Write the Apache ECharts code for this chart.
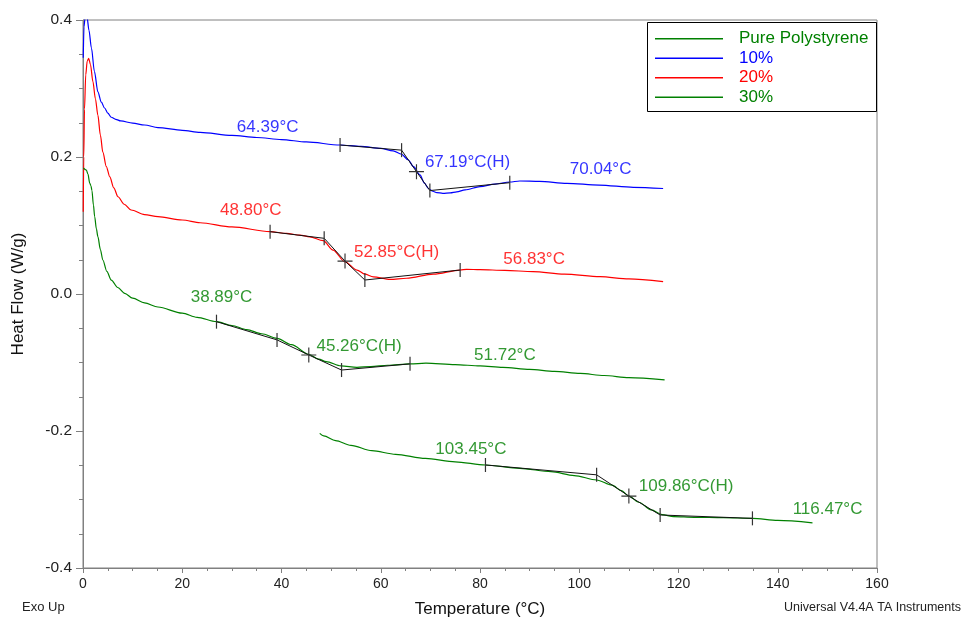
<!DOCTYPE html>
<html>
<head>
<meta charset="utf-8">
<script src="https://cdn.jsdelivr.net/npm/echarts@6/dist/echarts.min.js"></script>
<style>
html,body{margin:0;padding:0;background:#fff;}
#chart{width:962px;height:619px;}
</style>
</head>
<body>
<div id="chart"></div>
<script>
// ---------- data (temperature °C, heat flow W/g) ----------
const seriesNames = ['Pure Polystyrene', '10%', '20%', '30%'];
const xTicks = [0, 20, 40, 60, 80, 100, 120, 140, 160];
const yTicks = [-0.4, -0.2, 0.0, 0.2, 0.4];

const pureT = [47.7, 48.5, 50.9, 54, 58.2, 63, 69, 75, 81.1, 88, 94.3, 99, 103.5, 106.6, 108.5, 110, 112, 114.5, 116.7, 119, 123.2, 129, 134.9, 140, 147];
const pureV = [-0.2034, -0.207, -0.214, -0.221, -0.2287, -0.234, -0.24, -0.245, -0.2496, -0.2545, -0.2594, -0.265, -0.2715, -0.279, -0.287, -0.295, -0.304, -0.315, -0.322, -0.325, -0.326, -0.3265, -0.3275, -0.3305, -0.334];

const p10T = [0.05, 0.2, 0.5, 0.8, 1.2, 1.7, 2.3, 3.0, 3.7, 4.35, 5.0, 5.7, 6.6, 7.6, 10, 12.4, 15.1, 20, 23.6, 30, 35, 40, 45, 51.8, 56, 60, 62.5, 64.2, 65.5, 66.6, 67.9, 68.8, 69.6, 70.5, 71.3, 72.5, 74, 75.3, 77, 80, 83, 86, 88, 92, 97.5, 104, 110.9, 116.9];
const p10V = [0.345, 0.39, 0.41, 0.405, 0.385, 0.359, 0.325, 0.295, 0.28, 0.2715, 0.264, 0.258, 0.255, 0.2526, 0.2495, 0.2467, 0.243, 0.239, 0.236, 0.2315, 0.2285, 0.2255, 0.222, 0.2175, 0.2155, 0.2125, 0.209, 0.204, 0.196, 0.186, 0.174, 0.162, 0.154, 0.15, 0.148, 0.147, 0.1475, 0.149, 0.152, 0.1567, 0.1605, 0.1635, 0.165, 0.1645, 0.1616, 0.159, 0.1557, 0.154];

const p20T = [0.05, 0.15, 0.3, 0.55, 0.85, 1.15, 1.5, 2.0, 2.5, 3.0, 3.5, 4.0, 4.7, 5.4, 6.2, 7.05, 8.3, 9.7, 12.4, 15.1, 20, 23.6, 30, 37.7, 41, 43.7, 45.7, 48.4, 50.4, 52.8, 55.2, 56.8, 58.5, 61.9, 65.2, 70.6, 76, 77.3, 80, 85, 90.7, 97, 104.2, 110, 116.9];
const p20V = [0.12, 0.2, 0.27, 0.32, 0.34, 0.344, 0.335, 0.31, 0.285, 0.261, 0.232, 0.207, 0.186, 0.171, 0.155, 0.142, 0.131, 0.1226, 0.116, 0.113, 0.108, 0.104, 0.098, 0.091, 0.0885, 0.086, 0.0835, 0.078, 0.064, 0.047, 0.035, 0.029, 0.025, 0.0214, 0.023, 0.029, 0.035, 0.036, 0.0355, 0.0345, 0.0326, 0.029, 0.0253, 0.022, 0.018];

const p30T = [0.1, 0.67, 1.0, 1.35, 1.6, 1.8, 2.1, 2.35, 2.7, 3.0, 3.5, 4.0, 4.8, 5.7, 7, 8.4, 10, 12.4, 15.1, 20, 23, 26.9, 30, 33, 36, 39.1, 42, 45.5, 47.5, 49, 52, 55.2, 58, 61.4, 65.9, 69.1, 75, 80, 84.6, 90, 95, 100.2, 105, 110, 117.2];
const p30V = [0.184, 0.181, 0.175, 0.162, 0.158, 0.151, 0.13, 0.113, 0.095, 0.0837, 0.065, 0.0496, 0.033, 0.0204, 0.0095, 0.001, -0.006, -0.013, -0.019, -0.028, -0.034, -0.0404, -0.046, -0.052, -0.058, -0.0647, -0.074, -0.088, -0.095, -0.0988, -0.105, -0.107, -0.106, -0.104, -0.102, -0.101, -0.103, -0.105, -0.107, -0.11, -0.113, -0.116, -0.119, -0.122, -0.1255];

// glass-transition analysis construction points (onset, end-of-baseline, midpoint(H), end, offset)
const tgPureT = [81.1, 103.5, 110, 116.3, 134.9];
const tgPureV = [-0.2496, -0.264, -0.295, -0.3226, -0.3275];
const tg10T = [51.8, 64.2, 67.2, 69.9, 86.0];
const tg10V = [0.2175, 0.210, 0.1786, 0.151, 0.1625];
const tg20T = [37.7, 48.6, 52.8, 56.8, 76.0];
const tg20V = [0.091, 0.0813, 0.048, 0.0204, 0.035];
const tg30T = [26.9, 39.1, 45.5, 52.1, 65.9];
const tg30V = [-0.0404, -0.067, -0.089, -0.111, -0.102];

// annotation texts and their anchor (left, middle) in data coords
const annPureText = ['103.45°C', '109.86°C(H)', '116.47°C'];
const annPureT = [71.0, 112.0, 143.0];
const annPureV = [-0.2268, -0.2813, -0.3144];
const ann10Text = ['64.39°C', '67.19°C(H)', '70.04°C'];
const ann10T = [31.0, 68.9, 98.1];
const ann10V = [0.2438, 0.1927, 0.1825];
const ann20Text = ['48.80°C', '52.85°C(H)', '56.83°C'];
const ann20T = [27.6, 54.6, 84.7];
const ann20V = [0.1226, 0.0608, 0.0511];
const ann30Text = ['38.89°C', '45.26°C(H)', '51.72°C'];
const ann30T = [21.7, 47.05, 78.8];
const ann30V = [-0.0055, -0.0759, -0.089];

// ---------- build ----------
const FONT = "'Liberation Sans', Arial, sans-serif";
const colors = {'Pure Polystyrene': '#008000', '10%': '#0000ff', '20%': '#ff0000', '30%': '#008000'};
const zip = (a, b) => a.map((x, i) => [x, b[i]]);

function curve(name, T, V) {
  return {
    name: name, type: 'line', data: zip(T, V), showSymbol: false, symbol: 'none',
    smooth: 0.3, smoothMonotone: 'x',
    lineStyle: {color: colors[name], width: 1.2}, itemStyle: {color: colors[name]},
    z: 3, clip: true
  };
}
const CROSS = 'path://M0,6h13v1h-13zM6,0h1v13h-1z';
function tangent(T, V) {
  return {
    type: 'line', data: zip(T, V).map((p, i) => ({
      value: p,
      symbol: i === 2 ? CROSS : 'rect',
      symbolSize: i === 2 ? [15, 15] : [1.2, 14]
    })),
    showSymbol: true, lineStyle: {color: '#111', width: 1}, itemStyle: {color: '#333'},
    z: 4, silent: true
  };
}
function notes(texts, T, V, color) {
  return {
    type: 'scatter', symbolSize: 0, silent: true, z: 5,
    data: texts.map((t, i) => ({name: t, value: [T[i], V[i]]})),
    label: {show: true, position: 'right', distance: 0, formatter: '{b}', color: color, fontSize: 17, fontFamily: FONT}
  };
}

const chart = echarts.init(document.getElementById('chart'), null, {renderer: 'canvas'});
chart.setOption({
  animation: false,
  backgroundColor: '#ffffff',
  grid: {left: 83, right: 85, top: 20, bottom: 51, show: true, borderColor: '#808080', borderWidth: 1,
         backgroundColor: 'transparent', containLabel: false, outerBoundsMode: 'none'},
  legend: {
    data: seriesNames.map(n => ({name: n, textStyle: {color: colors[n]}})),
    orient: 'vertical', left: 655, top: 29, padding: 0, itemGap: 0,
    itemWidth: 68, itemHeight: 1.5, icon: 'rect',
    textStyle: {fontSize: 17, fontFamily: FONT, lineHeight: 19.5, padding: [0, 0, 0, 11]},
    selectedMode: false, z: 20
  },
  xAxis: {
    type: 'value', min: xTicks[0], max: xTicks[xTicks.length - 1], interval: 20,
    name: 'Temperature (°C)', nameLocation: 'middle', nameGap: 33,
    nameTextStyle: {fontSize: 17, fontFamily: FONT, color: '#111'},
    axisLine: {onZero: false, lineStyle: {color: '#808080', width: 1}},
    axisTick: {show: true, length: 5, lineStyle: {color: '#808080'}},
    minorTick: {show: true, splitNumber: 4, length: 3, lineStyle: {color: '#808080'}},
    axisLabel: {fontSize: 14, fontFamily: FONT, color: '#222', margin: 9},
    splitLine: {show: false}
  },
  yAxis: {
    type: 'value', min: yTicks[0], max: yTicks[yTicks.length - 1], interval: 0.2,
    name: 'Heat Flow (W/g)', nameLocation: 'middle', nameGap: 56, nameRotate: 90,
    nameTextStyle: {fontSize: 17, fontFamily: FONT, color: '#111'},
    axisLine: {lineStyle: {color: '#808080', width: 1}},
    axisTick: {show: true, length: 7, lineStyle: {color: '#808080'}},
    minorTick: {show: true, splitNumber: 4, length: 4, lineStyle: {color: '#808080'}},
    axisLabel: {fontSize: 15.5, fontFamily: FONT, color: '#222', margin: 11, formatter: v => v.toFixed(1)},
    splitLine: {show: false}
  },
  graphic: [
    {type: 'rect', shape: {x: 647.5, y: 22.5, width: 229, height: 89}, style: {fill: 'transparent', stroke: '#000', lineWidth: 1}, z: 1, silent: true},
    {type: 'text', left: 22, top: 601, style: {text: 'Exo Up', fontSize: 13, fontFamily: FONT, fill: '#222'}},
    {type: 'text', right: 1, top: 601, style: {text: 'Universal V4.4A TA Instruments', fontSize: 12.5, fontFamily: FONT, fill: '#222'}}
  ],
  series: [
    curve('Pure Polystyrene', pureT, pureV),
    curve('10%', p10T, p10V),
    curve('20%', p20T, p20V),
    curve('30%', p30T, p30V),
    tangent(tgPureT, tgPureV),
    tangent(tg10T, tg10V),
    tangent(tg20T, tg20V),
    tangent(tg30T, tg30V),
    notes(annPureText, annPureT, annPureV, colors['Pure Polystyrene']),
    notes(ann10Text, ann10T, ann10V, colors['10%']),
    notes(ann20Text, ann20T, ann20V, colors['20%']),
    notes(ann30Text, ann30T, ann30V, colors['30%'])
  ]
});
</script>
</body>
</html>
